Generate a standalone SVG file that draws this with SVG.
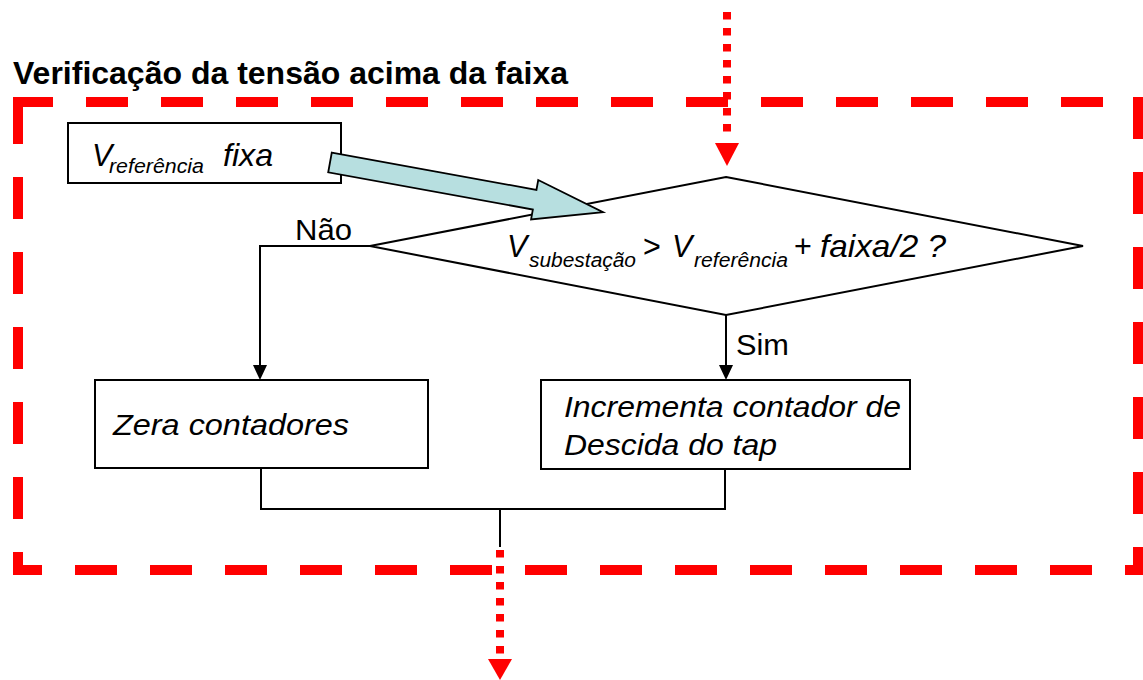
<svg xmlns="http://www.w3.org/2000/svg" width="1143" height="680" viewBox="0 0 1143 680">
<style>
text{font-family:"Liberation Sans",Arial,sans-serif;fill:#000}
.it{font-style:italic}
.frame{stroke:#FF0000;stroke-width:10;stroke-dasharray:42 33;fill:none}
.dot{stroke:#FF0000;stroke-width:8;stroke-dasharray:7.5 8.5;fill:none}
.red{fill:#FF0000}
.box{fill:#fff;stroke:#000;stroke-width:2}
.ln{fill:none;stroke:#000;stroke-width:2}
.ah{fill:#000}
</style>
<rect width="1143" height="680" fill="#fff"/>
<g id="frame">
<text x="13" y="84" font-size="30.5" font-weight="bold" textLength="555" lengthAdjust="spacingAndGlyphs">Verificação da tensão acima da faixa</text>
<line class="frame" x1="13" y1="102" x2="1143" y2="102" stroke-dashoffset="2"/>
<line class="frame" x1="18" y1="97" x2="18" y2="575" stroke-dashoffset="70"/>
<line class="frame" x1="1138" y1="97" x2="1138" y2="575" stroke-dashoffset="0"/>
<line class="frame" x1="13" y1="570" x2="1143" y2="570" stroke-dashoffset="13"/>
</g>
<g id="decision">
<polygon class="box" points="726,177 1083,246 726,315 370,246"/>
<text class="it" x="507" y="257" font-size="30.5">V</text>
<text class="it" x="529" y="267" font-size="20.5" textLength="107" lengthAdjust="spacingAndGlyphs">subestação</text>
<text x="643" y="257" font-size="30.5">&gt;</text>
<text class="it" x="672" y="257" font-size="30.5">V</text>
<text class="it" x="694" y="267" font-size="20.5" textLength="94" lengthAdjust="spacingAndGlyphs">referência</text>
<text x="794" y="257" font-size="30.5">+</text>
<text class="it" x="820" y="257" font-size="30.5" textLength="126" lengthAdjust="spacingAndGlyphs">faixa/2 ?</text>
</g>
<g id="vref">
<rect class="box" x="68" y="123" width="273" height="60"/>
<text class="it" x="92" y="166" font-size="30.5">V</text>
<text class="it" x="109" y="173" font-size="20.5" textLength="95" lengthAdjust="spacingAndGlyphs">referência</text>
<text class="it" x="223" y="166" font-size="30.5" textLength="50" lengthAdjust="spacingAndGlyphs">fixa</text>
</g>
<g id="zera">
<rect class="box" x="95" y="380" width="333" height="88"/>
<text class="it" x="113" y="435" font-size="30" textLength="236" lengthAdjust="spacingAndGlyphs">Zera contadores</text>
</g>
<g id="incrementa">
<rect class="box" x="541" y="380" width="369" height="89"/>
<text class="it" x="564" y="417" font-size="30" textLength="337" lengthAdjust="spacingAndGlyphs">Incrementa contador de</text>
<text class="it" x="564" y="455" font-size="30" textLength="213" lengthAdjust="spacingAndGlyphs">Descida do tap</text>
</g>
<g id="connectors">
<path transform="translate(330,162.5) rotate(10.3)" d="M0,-10 L208,-10 L208,-20 L277.5,0 L208,20 L208,10 L0,10 Z" fill="#B7DFE0" stroke="#000" stroke-width="1.8" stroke-linejoin="miter"/>
<polyline class="ln" points="370,246 260,246 260,366"/>
<polygon class="ah" points="253,365 267,365 260,380"/>
<text x="295" y="240" font-size="29" textLength="57" lengthAdjust="spacingAndGlyphs">Não</text>
<line class="ln" x1="726" y1="315" x2="726" y2="366"/>
<polygon class="ah" points="719,365 733,365 726,380"/>
<text x="736" y="355" font-size="29" textLength="53" lengthAdjust="spacingAndGlyphs">Sim</text>
<polyline class="ln" points="261,468 261,509 725,509 725,469"/>
<line class="ln" x1="500" y1="509" x2="500" y2="547"/>
<line class="dot" x1="727" y1="12" x2="727" y2="132"/>
<polygon class="red" points="715,143 739,143 727,166"/>
<line class="dot" x1="500" y1="550" x2="500" y2="654"/>
<polygon class="red" points="488,659 512,659 500,680"/>
</g>
</svg>
